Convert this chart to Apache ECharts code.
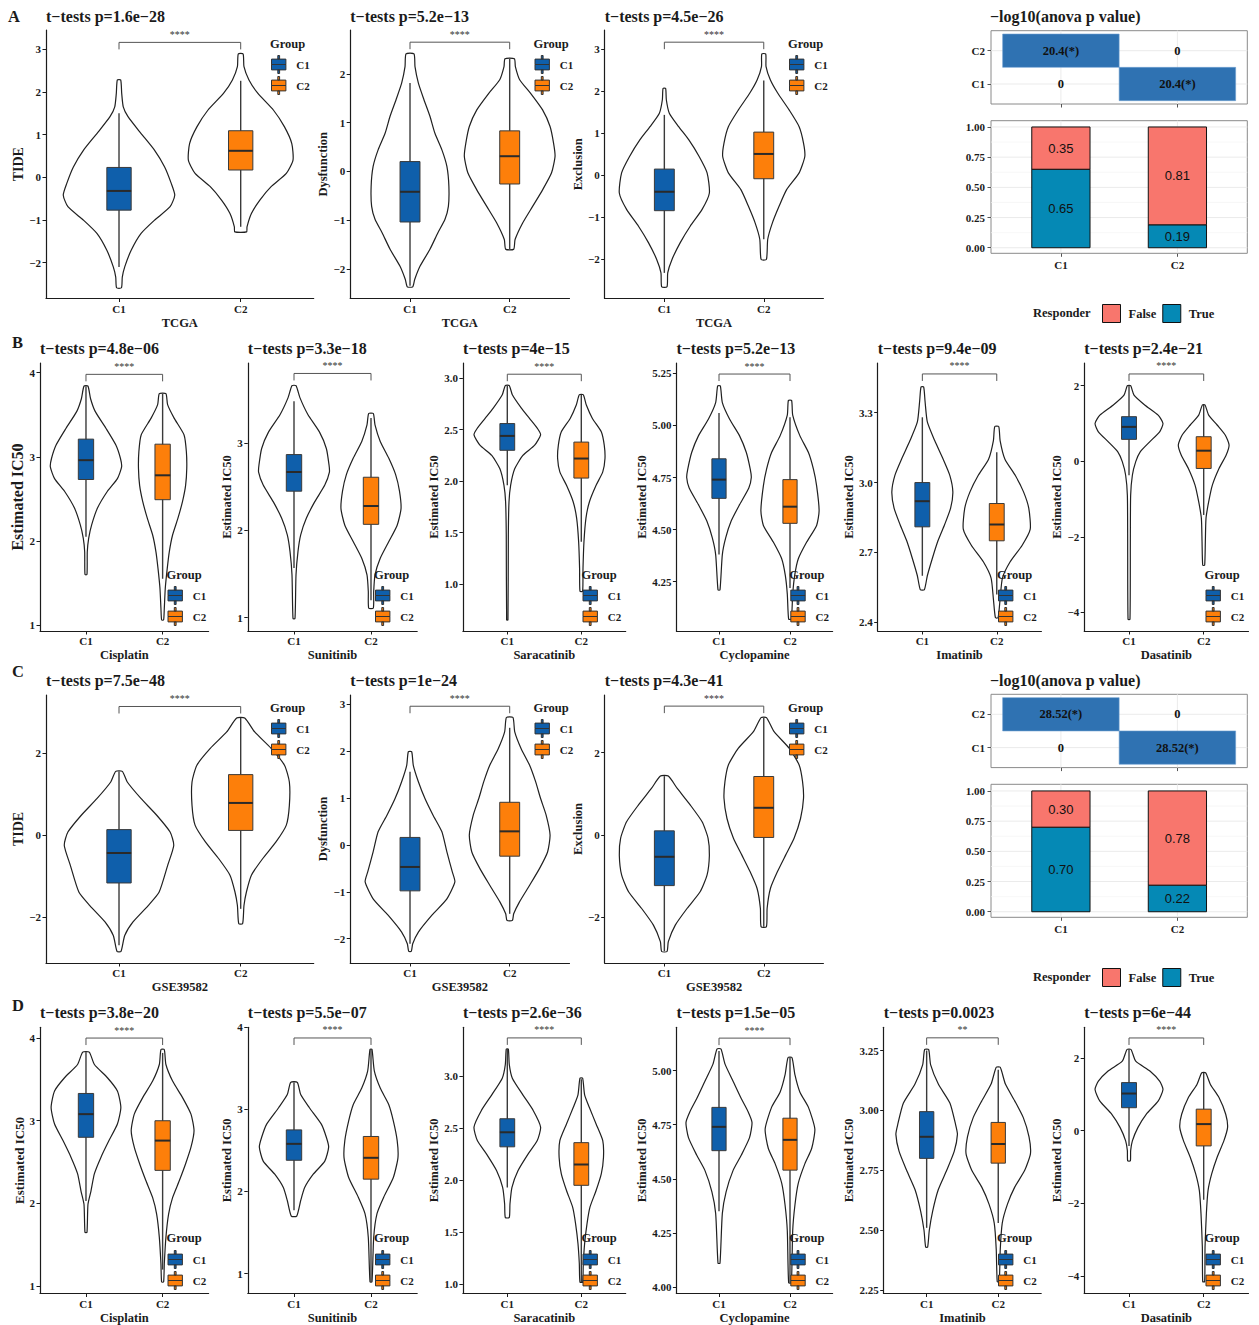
<!DOCTYPE html>
<html>
<head>
<meta charset="utf-8">
<title>TIDE scores and estimated drug IC50 by cluster</title>
<script src="https://cdn.jsdelivr.net/npm/echarts@6.0.0/dist/echarts.min.js"></script>
<style>
html,body{margin:0;padding:0;background:#ffffff;}
#chart{width:1259px;height:1325px;}
</style>
</head>
<body>
<div id="chart"></div>
<script>
// ---------------- data ----------------
const groups = ['C1', 'C2'];
const scoreNames = ['TIDE', 'Dysfunction', 'Exclusion'];
const drugNames = ['Cisplatin', 'Sunitinib', 'Saracatinib', 'Cyclopamine', 'Imatinib', 'Dasatinib'];

const titlesA = ['t\u2212tests p=1.6e\u221228', 't\u2212tests p=5.2e\u221213', 't\u2212tests p=4.5e\u221226'];
const titlesB = ['t\u2212tests p=4.8e\u221206', 't\u2212tests p=3.3e\u221218', 't\u2212tests p=4e\u221215', 't\u2212tests p=5.2e\u221213', 't\u2212tests p=9.4e\u221209', 't\u2212tests p=2.4e\u221221'];
const titlesC = ['t\u2212tests p=7.5e\u221248', 't\u2212tests p=1e\u221224', 't\u2212tests p=4.3e\u221241'];
const titlesD = ['t\u2212tests p=3.8e\u221220', 't\u2212tests p=5.5e\u221207', 't\u2212tests p=2.6e\u221236', 't\u2212tests p=1.5e\u221205', 't\u2212tests p=0.0023', 't\u2212tests p=6e\u221244'];

const sigA = ['****', '****', '****'];
const sigB = ['****', '****', '****', '****', '****', '****'];
const sigC = ['****', '****', '****'];
const sigD = ['****', '****', '****', '****', '**', '****'];

// height of the comparison bracket in each panel (data units)
const bracketA = [3.16, 2.65, 3.17];
const bracketB = [3.98, 3.80, 3.04, 5.247, 3.466, 2.31];
const bracketC = [3.13, 2.96, 3.13];
const bracketD = [4.0, 3.87, 3.367, 5.15, 3.303, 2.547];

// y tick values
const ticksA = [[-2, -1, 0, 1, 2, 3], [-2, -1, 0, 1, 2], [-2, -1, 0, 1, 2, 3]];
const ticksB = [[1, 2, 3, 4], [1, 2, 3], [1.0, 1.5, 2.0, 2.5, 3.0], [4.25, 4.5, 4.75, 5.0, 5.25], [2.4, 2.7, 3.0, 3.3], [-4, -2, 0, 2]];
const ticksC = [[-2, 0, 2], [-2, -1, 0, 1, 2, 3], [-2, 0, 2]];
const ticksD = [[1, 2, 3, 4], [1, 2, 3, 4], [1.0, 1.5, 2.0, 2.5, 3.0], [4.0, 4.25, 4.5, 4.75, 5.0], [2.25, 2.5, 2.75, 3.0, 3.25], [-4, -2, 0, 2]];

// violin outlines: [value, half width in category units], bottom to top
// box statistics: [lower whisker, Q1, median, Q3, upper whisker]

// TCGA TIDE
const violinTideTcgaC1 = [[-2.59, 0.02], [-2.34, 0.027], [-2.10, 0.047], [-1.71, 0.10], [-1.32, 0.18], [-1.01, 0.29], [-0.69, 0.42], [-0.42, 0.458], [-0.15, 0.43], [0.24, 0.375], [0.64, 0.29], [1.03, 0.18], [1.42, 0.074], [1.65, 0.035], [1.97, 0.022], [2.28, 0.014]];
const violinTideTcgaC2 = [[-1.28, 0.048], [-1.16, 0.052], [-0.85, 0.088], [-0.54, 0.156], [-0.22, 0.25], [0.09, 0.375], [0.40, 0.43], [0.79, 0.42], [1.18, 0.36], [1.57, 0.27], [1.97, 0.14], [2.28, 0.068], [2.59, 0.027], [2.89, 0.02]];
const boxTideTcgaC1 = [-2.10, -0.77, -0.32, 0.23, 1.50];
const boxTideTcgaC2 = [-1.16, 0.17, 0.62, 1.09, 2.26];

// TCGA Dysfunction
const violinDysTcgaC1 = [[-2.37, 0.027], [-2.22, 0.047], [-1.95, 0.10], [-1.60, 0.20], [-1.26, 0.28], [-0.99, 0.35], [-0.72, 0.385], [-0.31, 0.39], [0.10, 0.37], [0.44, 0.32], [0.78, 0.25], [1.13, 0.20], [1.47, 0.14], [1.81, 0.084], [2.15, 0.05], [2.41, 0.04]];
const violinDysTcgaC2 = [[-1.60, 0.04], [-1.40, 0.054], [-1.06, 0.13], [-0.72, 0.23], [-0.38, 0.33], [-0.03, 0.42], [0.31, 0.455], [0.58, 0.44], [0.92, 0.405], [1.26, 0.33], [1.60, 0.21], [1.88, 0.10], [2.15, 0.057], [2.31, 0.047]];
const boxDysTcgaC1 = [-2.35, -1.04, -0.42, 0.20, 1.81];
const boxDysTcgaC2 = [-1.60, -0.26, 0.31, 0.83, 2.31];

// TCGA Exclusion
const violinExcTcgaC1 = [[-2.65, 0.027], [-2.32, 0.034], [-2.0, 0.077], [-1.60, 0.16], [-1.21, 0.26], [-0.81, 0.38], [-0.42, 0.453], [0.06, 0.43], [0.45, 0.35], [0.85, 0.245], [1.16, 0.144], [1.48, 0.05], [1.80, 0.02], [2.07, 0.013]];
const violinExcTcgaC2 = [[-2.0, 0.027], [-1.52, 0.04], [-1.13, 0.087], [-0.73, 0.155], [-0.34, 0.23], [0.06, 0.356], [0.45, 0.413], [0.77, 0.40], [1.16, 0.356], [1.56, 0.255], [1.96, 0.14], [2.27, 0.067], [2.59, 0.023], [2.89, 0.02]];
const boxExcTcgaC1 = [-2.32, -0.84, -0.39, 0.15, 1.44];
const boxExcTcgaC2 = [-1.52, -0.08, 0.51, 1.03, 2.26];

// TCGA drugs
const violinCisTcgaC1 = [[1.60, 0.013], [1.87, 0.017], [2.03, 0.035], [2.19, 0.074], [2.39, 0.15], [2.59, 0.28], [2.74, 0.41], [2.88, 0.465], [2.98, 0.45], [3.14, 0.39], [3.34, 0.26], [3.54, 0.12], [3.69, 0.06], [3.84, 0.026]];
const violinCisTcgaC2 = [[1.06, 0.013], [1.20, 0.022], [1.44, 0.035], [1.67, 0.06], [1.87, 0.087], [2.07, 0.13], [2.27, 0.20], [2.47, 0.26], [2.66, 0.30], [2.86, 0.315], [3.06, 0.31], [3.26, 0.28], [3.46, 0.15], [3.62, 0.065], [3.75, 0.043]];
const boxCisTcgaC1 = [2.05, 2.73, 2.96, 3.21, 3.84];
const boxCisTcgaC2 = [1.55, 2.49, 2.78, 3.15, 3.75];

const violinSunTcgaC1 = [[0.99, 0.013], [1.49, 0.026], [1.76, 0.052], [1.95, 0.087], [2.14, 0.16], [2.33, 0.27], [2.52, 0.40], [2.67, 0.46], [2.75, 0.455], [2.94, 0.42], [3.13, 0.33], [3.33, 0.18], [3.52, 0.078], [3.66, 0.026]];
const violinSunTcgaC2 = [[1.11, 0.03], [1.30, 0.035], [1.49, 0.052], [1.68, 0.12], [1.87, 0.23], [2.06, 0.34], [2.25, 0.39], [2.45, 0.37], [2.64, 0.32], [2.83, 0.23], [3.02, 0.12], [3.21, 0.052], [3.34, 0.03]];
const boxSunTcgaC1 = [1.57, 2.45, 2.67, 2.87, 3.48];
const boxSunTcgaC2 = [1.20, 2.07, 2.28, 2.61, 3.29];

const violinSarTcgaC1 = [[0.65, 0.009], [1.48, 0.014], [1.80, 0.023], [1.96, 0.045], [2.12, 0.10], [2.25, 0.21], [2.35, 0.37], [2.45, 0.45], [2.51, 0.41], [2.61, 0.30], [2.71, 0.19], [2.84, 0.068], [2.93, 0.027]];
const violinSarTcgaC2 = [[0.93, 0.018], [1.15, 0.023], [1.41, 0.036], [1.64, 0.063], [1.80, 0.11], [1.96, 0.20], [2.09, 0.29], [2.22, 0.32], [2.35, 0.31], [2.48, 0.27], [2.61, 0.15], [2.74, 0.068], [2.84, 0.027]];
const boxSarTcgaC1 = [1.96, 2.30, 2.44, 2.56, 2.93];
const boxSarTcgaC2 = [1.41, 2.03, 2.22, 2.38, 2.84];

const violinCycTcgaC1 = [[4.21, 0.014], [4.38, 0.047], [4.46, 0.094], [4.54, 0.17], [4.62, 0.29], [4.70, 0.42], [4.75, 0.455], [4.79, 0.44], [4.87, 0.385], [4.95, 0.29], [5.03, 0.15], [5.11, 0.047], [5.19, 0.019]];
const violinCycTcgaC2 = [[4.07, 0.019], [4.19, 0.038], [4.28, 0.066], [4.36, 0.117], [4.44, 0.235], [4.52, 0.375], [4.59, 0.41], [4.71, 0.375], [4.79, 0.33], [4.87, 0.26], [4.95, 0.14], [5.05, 0.038], [5.12, 0.023]];
const boxCycTcgaC1 = [4.38, 4.65, 4.74, 4.84, 5.06];
const boxCycTcgaC2 = [4.22, 4.53, 4.61, 4.74, 5.04];

const violinImaTcgaC1 = [[2.54, 0.027], [2.60, 0.067], [2.67, 0.13], [2.75, 0.21], [2.82, 0.30], [2.89, 0.38], [2.96, 0.41], [3.03, 0.37], [3.10, 0.28], [3.18, 0.166], [3.26, 0.067], [3.35, 0.036], [3.41, 0.018]];
const violinImaTcgaC2 = [[2.42, 0.018], [2.50, 0.045], [2.59, 0.076], [2.66, 0.18], [2.73, 0.34], [2.80, 0.45], [2.89, 0.43], [2.96, 0.36], [3.03, 0.25], [3.10, 0.11], [3.18, 0.045], [3.24, 0.027]];
const boxImaTcgaC1 = [2.60, 2.81, 2.92, 3.00, 3.28];
const boxImaTcgaC2 = [2.52, 2.75, 2.82, 2.91, 3.13];

const violinDasTcgaC1 = [[-4.18, 0.013], [-1.95, 0.018], [-0.9, 0.022], [-0.37, 0.045], [-0.01, 0.09], [0.25, 0.15], [0.52, 0.28], [0.78, 0.41], [1.0, 0.455], [1.22, 0.39], [1.49, 0.21], [1.75, 0.067], [2.0, 0.022]];
const violinDasTcgaC2 = [[-2.75, 0.013], [-2.13, 0.022], [-1.51, 0.031], [-1.07, 0.067], [-0.63, 0.116], [-0.19, 0.205], [0.16, 0.30], [0.43, 0.34], [0.69, 0.29], [0.96, 0.18], [1.22, 0.067], [1.49, 0.018]];
const boxDasTcgaC1 = [-0.37, 0.58, 0.91, 1.18, 2.0];
const boxDasTcgaC2 = [-1.42, -0.19, 0.28, 0.65, 1.49];

// GSE39582 TIDE
const violinTideGseC1 = [[-2.84, 0.016], [-2.45, 0.047], [-2.12, 0.115], [-1.72, 0.24], [-1.39, 0.33], [-0.74, 0.40], [-0.25, 0.45], [0.07, 0.42], [0.48, 0.31], [0.89, 0.18], [1.29, 0.068], [1.55, 0.027]];
const violinTideGseC2 = [[-2.16, 0.016], [-1.72, 0.027], [-1.39, 0.047], [-0.98, 0.088], [-0.58, 0.18], [-0.17, 0.29], [0.24, 0.375], [0.72, 0.40], [1.29, 0.40], [1.70, 0.36], [2.11, 0.25], [2.51, 0.115], [2.85, 0.033]];
const boxTideGseC1 = [-2.69, -1.17, -0.44, 0.13, 1.55];
const boxTideGseC2 = [-1.80, 0.11, 0.78, 1.47, 2.85];

// GSE39582 Dysfunction
const violinDysGseC1 = [[-2.27, 0.013], [-2.11, 0.027], [-1.86, 0.084], [-1.50, 0.22], [-1.15, 0.37], [-0.79, 0.45], [-0.58, 0.425], [-0.15, 0.37], [0.28, 0.32], [0.64, 0.23], [0.99, 0.15], [1.35, 0.084], [1.70, 0.033], [1.99, 0.017]];
const violinDysGseC2 = [[-1.61, 0.027], [-1.47, 0.04], [-1.22, 0.097], [-0.86, 0.20], [-0.50, 0.30], [-0.15, 0.38], [0.21, 0.405], [0.64, 0.365], [0.99, 0.31], [1.35, 0.26], [1.70, 0.20], [2.06, 0.114], [2.42, 0.05], [2.72, 0.033]];
const boxDysGseC1 = [-2.11, -0.98, -0.47, 0.16, 1.56];
const boxDysGseC2 = [-1.47, -0.24, 0.29, 0.91, 2.50];

// GSE39582 Exclusion
const violinExcGseC1 = [[-2.83, 0.027], [-2.59, 0.04], [-2.19, 0.11], [-1.78, 0.23], [-1.38, 0.36], [-0.97, 0.43], [-0.49, 0.453], [-0.08, 0.44], [0.32, 0.38], [0.73, 0.26], [1.13, 0.13], [1.43, 0.04]];
const violinExcGseC2 = [[-2.23, 0.027], [-1.78, 0.034], [-1.30, 0.067], [-0.89, 0.138], [-0.49, 0.22], [-0.08, 0.305], [0.40, 0.37], [0.89, 0.40], [1.30, 0.39], [1.70, 0.356], [2.11, 0.255], [2.51, 0.104], [2.85, 0.027]];
const boxExcGseC1 = [-2.82, -1.23, -0.53, 0.10, 1.43];
const boxExcGseC2 = [-2.23, -0.06, 0.66, 1.42, 2.85];

// GSE39582 drugs
const violinCisGseC1 = [[1.65, 0.013], [1.99, 0.026], [2.15, 0.065], [2.36, 0.11], [2.56, 0.196], [2.76, 0.30], [2.96, 0.41], [3.16, 0.455], [3.36, 0.41], [3.52, 0.28], [3.68, 0.11], [3.83, 0.043]];
const violinCisGseC2 = [[1.05, 0.013], [1.27, 0.022], [1.59, 0.043], [1.87, 0.078], [2.07, 0.13], [2.28, 0.22], [2.48, 0.30], [2.68, 0.37], [2.88, 0.41], [3.08, 0.37], [3.28, 0.26], [3.48, 0.13], [3.68, 0.043], [3.86, 0.022]];
const boxCisGseC1 = [2.03, 2.80, 3.08, 3.33, 3.83];
const boxCisGseC2 = [1.20, 2.40, 2.76, 3.00, 3.82];

const violinSunGseC1 = [[1.70, 0.035], [1.89, 0.087], [2.05, 0.14], [2.21, 0.25], [2.37, 0.40], [2.54, 0.45], [2.66, 0.42], [2.82, 0.355], [3.02, 0.20], [3.18, 0.087], [3.33, 0.043]];
const violinSunGseC2 = [[0.90, 0.013], [1.44, 0.035], [1.73, 0.078], [1.93, 0.165], [2.17, 0.29], [2.41, 0.35], [2.62, 0.34], [2.86, 0.29], [3.06, 0.23], [3.26, 0.12], [3.47, 0.043], [3.73, 0.013]];
const boxSunGseC1 = [1.77, 2.38, 2.58, 2.75, 3.33];
const boxSunGseC2 = [0.90, 2.15, 2.41, 2.67, 3.73];

const violinSarGseC1 = [[1.64, 0.027], [1.77, 0.036], [1.93, 0.063], [2.09, 0.144], [2.25, 0.28], [2.38, 0.405], [2.51, 0.45], [2.67, 0.35], [2.82, 0.21], [2.98, 0.068], [3.11, 0.027], [3.26, 0.014]];
const violinSarGseC2 = [[1.02, 0.018], [1.20, 0.027], [1.39, 0.045], [1.58, 0.077], [1.74, 0.117], [1.90, 0.20], [2.06, 0.27], [2.22, 0.30], [2.38, 0.29], [2.54, 0.20], [2.70, 0.108], [2.82, 0.045], [2.98, 0.018]];
const boxSarGseC1 = [1.93, 2.32, 2.46, 2.59, 3.26];
const boxSarGseC2 = [1.02, 1.95, 2.15, 2.36, 2.97];

const violinCycGseC1 = [[4.11, 0.014], [4.34, 0.047], [4.44, 0.10], [4.54, 0.20], [4.61, 0.315], [4.69, 0.43], [4.76, 0.465], [4.81, 0.41], [4.87, 0.315], [4.95, 0.20], [5.03, 0.085], [5.10, 0.028]];
const violinCycGseC2 = [[4.02, 0.019], [4.26, 0.038], [4.38, 0.07], [4.48, 0.117], [4.57, 0.21], [4.64, 0.305], [4.73, 0.35], [4.83, 0.26], [4.90, 0.14], [4.98, 0.07], [5.06, 0.028]];
const boxCycGseC1 = [4.35, 4.63, 4.74, 4.83, 5.09];
const boxCycGseC2 = [4.02, 4.54, 4.68, 4.78, 5.06];

const violinImaGseC1 = [[2.43, 0.014], [2.50, 0.037], [2.58, 0.084], [2.67, 0.163], [2.75, 0.28], [2.83, 0.386], [2.90, 0.43], [2.94, 0.405], [3.03, 0.326], [3.11, 0.163], [3.19, 0.056], [3.254, 0.028]];
const violinImaGseC2 = [[2.285, 0.014], [2.42, 0.028], [2.53, 0.056], [2.61, 0.13], [2.68, 0.23], [2.75, 0.37], [2.82, 0.45], [2.89, 0.43], [2.97, 0.35], [3.04, 0.23], [3.11, 0.10], [3.18, 0.028]];
const boxImaGseC1 = [2.51, 2.80, 2.89, 2.995, 3.25];
const boxImaGseC2 = [2.53, 2.78, 2.86, 2.95, 3.17];

const violinDasGseC1 = [[-0.83, 0.018], [-0.55, 0.022], [-0.28, 0.045], [0.09, 0.12], [0.45, 0.23], [0.81, 0.39], [1.13, 0.455], [1.36, 0.41], [1.64, 0.28], [1.91, 0.09], [2.23, 0.027]];
const violinDasGseC2 = [[-4.15, 0.013], [-3.20, 0.018], [-2.28, 0.036], [-1.65, 0.058], [-1.19, 0.107], [-0.73, 0.18], [-0.28, 0.27], [0.09, 0.32], [0.45, 0.295], [0.91, 0.205], [1.27, 0.09], [1.59, 0.027]];
const boxDasGseC1 = [-0.42, 0.63, 1.02, 1.32, 2.23];
const boxDasGseC2 = [-1.90, -0.42, 0.18, 0.59, 1.59];

// responder fractions and ANOVA tiles
const responderLevels = ['False', 'True'];
const respTrueTcga = [0.65, 0.19];
const respFalseTcga = [0.35, 0.81];
const respTrueGse = [0.70, 0.22];
const respFalseGse = [0.30, 0.78];
const anovaTcga = [[1, 2, 20.4], [2, 2, 0], [1, 1, 0], [2, 1, 20.4]];
const anovaGse = [[1, 2, 28.52], [2, 2, 0], [1, 1, 0], [2, 1, 28.52]];
const fractionTicks = [0, 0.25, 0.5, 0.75, 1];
const fractionMinor = [0.125, 0.375, 0.625, 0.875];

// ---------------- styling & layout ----------------
const SERIF = '"Liberation Serif","Times New Roman",serif';
const SANS = '"Liberation Sans",Arial,sans-serif';
const COLOR_C1 = '#0f5fab';
const COLOR_C2 = '#fd7f0a';
const COLOR_FALSE = '#f8766d';
const COLOR_TRUE = '#0589b5';
const COLOR_TILE = '#2f72b2';
const INK = '#1b1b1b';
const BOX_HALF = 0.1;
const BAR_HALF = 0.25;
const BOX_ICON = 'path://M7,0h2v4h-2z M0,4h16v6h-16z M0,10h16v6h-16z M7,16h2v4h-2z';

const rowA = { top: 30, height: 268.5, titleY: 16, groupY: 43.5, legendTop: 55, letter: 'A', letterY: 16 };
const rowB = { top: 363, height: 268, titleY: 348, groupY: 574.5, legendTop: 586, letter: 'B', letterY: 342 };
const rowC = { top: 695, height: 268, titleY: 680, groupY: 707.5, legendTop: 719, letter: 'C', letterY: 671 };
const rowD = { top: 1027.3, height: 267.4, titleY: 1012, groupY: 1238, legendTop: 1250, letter: 'D', letterY: 1005.5 };

const colsWide = [
  { left: 46, width: 267.7, legendX: 271 },
  { left: 350.2, width: 219.3, legendX: 534.5 },
  { left: 604.7, width: 218.7, legendX: 789 }
];
const colsNarrowB = [
  { left: 40, width: 168.6, legendX: 167.5 },
  { left: 247.8, width: 169.4, legendX: 375 },
  { left: 462.9, width: 162.8, legendX: 582.5 },
  { left: 676.4, width: 156.2, legendX: 790.3 },
  { left: 877.7, width: 163.7, legendX: 998 },
  { left: 1084.2, width: 164.3, legendX: 1205.5 }
];
const colsNarrowD = colsNarrowB.map((c, i) => i === 4 ? { left: 883.7, width: 157.5, legendX: 998 } : c);

// y extents, label decimals, axis-title gap/size for each panel
const axesA = [
  { min: -2.84, max: 3.45, dec: 0, gap: 17.5, size: 14 },
  { min: -2.61, max: 2.90, dec: 0, gap: 16.5, size: 12.5 },
  { min: -2.93, max: 3.46, dec: 0, gap: 15, size: 12.5 }
];
const axesB = [
  { min: 0.929, max: 4.115, dec: 0, gap: 11, size: 16 },
  { min: 0.847, max: 3.92, dec: 0, gap: 14.5, size: 12.5 },
  { min: 0.543, max: 3.149, dec: 1, gap: 22.5, size: 12.5 },
  { min: 4.013, max: 5.30, dec: 2, gap: 27, size: 12.5 },
  { min: 2.363, max: 3.513, dec: 1, gap: 21, size: 12.5 },
  { min: -4.49, max: 2.60, dec: 0, gap: 20, size: 12.5 }
];
const axesC = [
  { min: -3.12, max: 3.41, dec: 0, gap: 18.5, size: 14 },
  { min: -2.52, max: 3.20, dec: 0, gap: 16.5, size: 12.5 },
  { min: -3.11, max: 3.40, dec: 0, gap: 15, size: 12.5 }
];
const axesD = [
  { min: 0.911, max: 4.13, dec: 0, gap: 14, size: 13 },
  { min: 0.757, max: 4.0, dec: 0, gap: 14.5, size: 12.5 },
  { min: 0.91, max: 3.469, dec: 1, gap: 22.5, size: 12.5 },
  { min: 3.97, max: 5.2, dec: 2, gap: 27, size: 12.5 },
  { min: 2.236, max: 3.347, dec: 2, gap: 26.5, size: 12.5 },
  { min: -4.476, max: 2.84, dec: 0, gap: 20, size: 12.5 }
];

// ---------------- option assembly ----------------
const option = {
  animation: false,
  backgroundColor: '#ffffff',
  grid: [], xAxis: [], yAxis: [], series: [], legend: [], graphic: []
};

function num(v, dec) {
  const s = Math.abs(v).toFixed(dec);
  return (v < 0 ? '\u2212' : '') + s;
}

function text(x, y, str, size, opts) {
  option.graphic.push({
    type: 'text', x: x, y: y, z: 100, silent: true,
    style: Object.assign({
      text: str, fontFamily: SERIF, fontWeight: 'bold', fontSize: size,
      fill: INK, align: 'left', verticalAlign: 'middle'
    }, opts || {})
  });
}

function violinSeries(name, color, gx, profile, box, ai) {
  return {
    type: 'custom', name: name, xAxisIndex: ai, yAxisIndex: ai, z: 2,
    itemStyle: { color: color },
    data: [[gx, box[2]]],
    renderItem: function (params, api) {
      const c = api.value(0);
      const right = profile.map(p => api.coord([c + p[1], p[0]]));
      const left = profile.slice().reverse().map(p => api.coord([c - p[1], p[0]]));
      const lo = api.coord([c, box[0]]);
      const hi = api.coord([c, box[4]]);
      const tl = api.coord([c - BOX_HALF, box[3]]);
      const br = api.coord([c + BOX_HALF, box[1]]);
      const m0 = api.coord([c - BOX_HALF, box[2]]);
      const m1 = api.coord([c + BOX_HALF, box[2]]);
      return {
        type: 'group',
        children: [
          { type: 'polygon', shape: { points: right.concat(left), smooth: 0.2 },
            style: { fill: '#ffffff', stroke: '#202020', lineWidth: 1.2 } },
          { type: 'line', shape: { x1: lo[0], y1: lo[1], x2: hi[0], y2: hi[1] },
            style: { stroke: '#3a3a3a', lineWidth: 1.4 } },
          { type: 'rect', shape: { x: tl[0], y: tl[1], width: br[0] - tl[0], height: br[1] - tl[1] },
            style: { fill: color, stroke: '#3a3a3a', lineWidth: 1 } },
          { type: 'line', shape: { x1: m0[0], y1: m0[1], x2: m1[0], y2: m1[1] },
            style: { stroke: '#2a2a2a', lineWidth: 2 } }
        ]
      };
    }
  };
}

function bracketSeries(level, label, ai) {
  return {
    type: 'custom', name: 'comparison', xAxisIndex: ai, yAxisIndex: ai, z: 3, silent: true,
    data: [[1, level]],
    renderItem: function (params, api) {
      const a = api.coord([1, api.value(1)]);
      const b = api.coord([2, api.value(1)]);
      return {
        type: 'group',
        children: [
          { type: 'polyline', shape: { points: [[a[0], a[1] + 7], a, b, [b[0], b[1] + 7]] },
            style: { stroke: '#555555', lineWidth: 1, fill: 'none' } },
          { type: 'text', x: (a[0] + b[0]) / 2, y: a[1] - 8,
            style: { text: label, fontFamily: SERIF, fontSize: 10, fill: '#333333', align: 'center', verticalAlign: 'middle' } }
        ]
      };
    }
  };
}

function axisText(size) {
  return { fontFamily: SERIF, fontWeight: 'bold', fontSize: size, color: INK };
}

function addViolinPanel(row, col, ax, ticks, title, yName, xName, sig, level, v1, v2, b1, b2) {
  const ai = option.grid.length;
  option.grid.push({ left: col.left, top: row.top, width: col.width, height: row.height });
  option.xAxis.push({
    gridIndex: ai, type: 'value', min: 0.4, max: 2.6,
    axisLine: { show: true, onZero: false, lineStyle: { color: INK, width: 1.2 } },
    axisTick: { show: true, customValues: [1, 2], length: 3.5, lineStyle: { color: INK } },
    axisLabel: { customValues: [1, 2], formatter: v => groups[Math.round(v) - 1], margin: 4.5,
      fontFamily: SERIF, fontWeight: 'bold', fontSize: 11, color: INK },
    splitLine: { show: false },
    name: xName, nameLocation: 'middle', nameGap: 17.5, nameTextStyle: axisText(12.5)
  });
  option.yAxis.push({
    gridIndex: ai, type: 'value', min: ax.min, max: ax.max,
    axisLine: { show: true, onZero: false, lineStyle: { color: INK, width: 1.2 } },
    axisTick: { show: true, customValues: ticks, length: 3.5, lineStyle: { color: INK } },
    axisLabel: { customValues: ticks, formatter: v => num(v, ax.dec), margin: 5,
      fontFamily: SERIF, fontWeight: 'bold', fontSize: 11, color: INK },
    splitLine: { show: false },
    name: yName, nameLocation: 'middle', nameGap: ax.gap, nameTextStyle: axisText(ax.size)
  });
  option.series.push(violinSeries('C1', COLOR_C1, 1, v1, b1, ai));
  option.series.push(violinSeries('C2', COLOR_C2, 2, v2, b2, ai));
  option.series.push(bracketSeries(level, sig, ai));
  option.legend.push({
    data: groups, orient: 'vertical', left: col.legendX, top: row.legendTop, padding: 0, z: 50,
    itemWidth: 15, itemHeight: 18, itemGap: 2, icon: BOX_ICON, selectedMode: false,
    itemStyle: { borderColor: '#333333', borderWidth: 1 },
    textStyle: { fontFamily: SERIF, fontWeight: 'bold', fontSize: 11, color: INK, padding: [0, 0, 0, 5] }
  });
  text(col.left, row.titleY, title, 16);
  text(col.legendX - 1, row.groupY, 'Group', 12.5);
}

// one stacked segment per data item: [x, fraction, base]
function fractionSeries(name, color, values, bases, ai) {
  return {
    type: 'custom', name: name, xAxisIndex: ai, yAxisIndex: ai, z: 2,
    itemStyle: { color: color },
    data: values.map((v, i) => [i + 1, v, bases[i]]),
    renderItem: function (params, api) {
      const x = api.value(0), v = api.value(1), base = api.value(2);
      const a = api.coord([x - BAR_HALF, base + v]);
      const b = api.coord([x + BAR_HALF, base]);
      return {
        type: 'group',
        children: [
          { type: 'rect', shape: { x: a[0], y: a[1], width: b[0] - a[0], height: b[1] - a[1] },
            style: { fill: color, stroke: '#111111', lineWidth: 1 } },
          { type: 'text', x: (a[0] + b[0]) / 2, y: (a[1] + b[1]) / 2,
            style: { text: v.toFixed(2), fontFamily: SANS, fontSize: 13, fill: '#111111',
              align: 'center', verticalAlign: 'middle' } }
        ]
      };
    }
  };
}

function addResponsePanel(tileTop, barTop, barHeight, barMin, barMax, legendTop, titleY, cells, trueVals, falseVals) {
  const left = 991, width = 256.3;
  // tile panel
  const hi = option.grid.length;
  option.grid.push({ left: left, top: tileTop, width: width, height: 73.3, show: true,
    borderColor: '#8a8a8a', borderWidth: 1, backgroundColor: '#ffffff' });
  option.xAxis.push({
    gridIndex: hi, type: 'value', min: 0.4, max: 2.6,
    axisLine: { show: false, onZero: false },
    axisTick: { show: true, customValues: [1, 2], length: 3.5, lineStyle: { color: '#555' } },
    axisLabel: { show: false }, splitLine: { show: false }
  });
  option.yAxis.push({
    gridIndex: hi, type: 'value', min: 0.4, max: 2.6,
    axisLine: { show: false, onZero: false },
    axisTick: { show: true, customValues: [1, 2], length: 3.5, lineStyle: { color: '#555' } },
    axisLabel: { customValues: [1, 2], formatter: v => groups[Math.round(v) - 1], margin: 6,
      fontFamily: SERIF, fontWeight: 'bold', fontSize: 11, color: INK },
    splitLine: { show: false }
  });
  option.series.push({
    type: 'custom', name: 'tile-grid', xAxisIndex: hi, yAxisIndex: hi, z: 1, silent: true,
    data: [[1, 0], [2, 0], [0, 1], [0, 2]],
    renderItem: function (params, api) {
      const vx = api.value(0), vy = api.value(1);
      const p0 = vx ? api.coord([vx, 0.4]) : api.coord([0.4, vy]);
      const p1 = vx ? api.coord([vx, 2.6]) : api.coord([2.6, vy]);
      return { type: 'line', shape: { x1: p0[0], y1: p0[1], x2: p1[0], y2: p1[1] },
        style: { stroke: '#ebebeb', lineWidth: 1 } };
    }
  });
  option.series.push({
    type: 'custom', name: 'anova', xAxisIndex: hi, yAxisIndex: hi, z: 2, silent: true,
    data: cells,
    renderItem: function (params, api) {
      const x = api.value(0), y = api.value(1), v = api.value(2);
      const a = api.coord([x - 0.5, y + 0.5]);
      const b = api.coord([x + 0.5, y - 0.5]);
      return {
        type: 'group',
        children: [
          { type: 'rect', shape: { x: a[0], y: a[1], width: b[0] - a[0], height: b[1] - a[1] },
            style: { fill: v > 0 ? COLOR_TILE : 'rgba(255,255,255,0)', stroke: v > 0 ? '#6f9fd0' : 'none', lineWidth: 0.6 } },
          { type: 'text', x: (a[0] + b[0]) / 2, y: (a[1] + b[1]) / 2,
            style: { text: v > 0 ? v + '(*)' : '0', fontFamily: SERIF, fontWeight: 'bold', fontSize: 12.5,
              fill: '#111111', align: 'center', verticalAlign: 'middle' } }
        ]
      };
    }
  });
  // stacked responder fractions
  const bi = option.grid.length;
  option.grid.push({ left: left, top: barTop, width: width, height: barHeight, show: true,
    borderColor: '#8a8a8a', borderWidth: 1, backgroundColor: '#ffffff' });
  option.xAxis.push({
    gridIndex: bi, type: 'value', min: 0.4, max: 2.6,
    axisLine: { show: false, onZero: false },
    axisTick: { show: true, customValues: [1, 2], length: 3.5, lineStyle: { color: '#555' } },
    axisLabel: { customValues: [1, 2], formatter: v => groups[Math.round(v) - 1], margin: 6,
      fontFamily: SERIF, fontWeight: 'bold', fontSize: 11, color: INK },
    splitLine: { show: false }
  });
  option.yAxis.push({
    gridIndex: bi, type: 'value', min: barMin, max: barMax,
    axisLine: { show: false, onZero: false },
    axisTick: { show: true, customValues: fractionTicks, length: 3.5, lineStyle: { color: '#555' } },
    axisLabel: { customValues: fractionTicks, formatter: v => v.toFixed(2), margin: 6,
      fontFamily: SERIF, fontWeight: 'bold', fontSize: 11, color: INK },
    splitLine: { show: false }
  });
  const gridLines = fractionTicks.map(v => [0, v, 1]).concat(fractionMinor.map(v => [0, v, 0]), [[1, 0, 1], [2, 0, 1]]);
  option.series.push({
    type: 'custom', name: 'fraction-grid', xAxisIndex: bi, yAxisIndex: bi, z: 1, silent: true,
    data: gridLines,
    renderItem: function (params, api) {
      const vx = api.value(0), vy = api.value(1), major = api.value(2);
      const p0 = vx ? api.coord([vx, barMin]) : api.coord([0.4, vy]);
      const p1 = vx ? api.coord([vx, barMax]) : api.coord([2.6, vy]);
      return { type: 'line', shape: { x1: p0[0], y1: p0[1], x2: p1[0], y2: p1[1] },
        style: { stroke: major ? '#ebebeb' : '#f4f4f4', lineWidth: major ? 1 : 0.7 } };
    }
  });
  option.series.push(fractionSeries('True', COLOR_TRUE, trueVals, trueVals.map(() => 0), bi));
  option.series.push(fractionSeries('False', COLOR_FALSE, falseVals, trueVals, bi));
  option.legend.push({
    data: responderLevels, orient: 'horizontal', left: 1102, top: legendTop, padding: 0,
    itemWidth: 18, itemHeight: 18, itemGap: 6, icon: 'rect', selectedMode: false,
    itemStyle: { borderColor: '#111111', borderWidth: 1 },
    textStyle: { fontFamily: SERIF, fontWeight: 'bold', fontSize: 12.5, color: INK, padding: [0, 0, 0, 3] }
  });
  text(1033, legendTop + 9, 'Responder', 12.5);
  text(990, titleY, '\u2212log10(anova p value)', 16);
}

// Row A
const violinsA = [
  [violinTideTcgaC1, violinTideTcgaC2, boxTideTcgaC1, boxTideTcgaC2],
  [violinDysTcgaC1, violinDysTcgaC2, boxDysTcgaC1, boxDysTcgaC2],
  [violinExcTcgaC1, violinExcTcgaC2, boxExcTcgaC1, boxExcTcgaC2]
];
violinsA.forEach((v, i) => addViolinPanel(rowA, colsWide[i], axesA[i], ticksA[i], titlesA[i], scoreNames[i], 'TCGA', sigA[i], bracketA[i], v[0], v[1], v[2], v[3]));

// Row B
const violinsB = [
  [violinCisTcgaC1, violinCisTcgaC2, boxCisTcgaC1, boxCisTcgaC2],
  [violinSunTcgaC1, violinSunTcgaC2, boxSunTcgaC1, boxSunTcgaC2],
  [violinSarTcgaC1, violinSarTcgaC2, boxSarTcgaC1, boxSarTcgaC2],
  [violinCycTcgaC1, violinCycTcgaC2, boxCycTcgaC1, boxCycTcgaC2],
  [violinImaTcgaC1, violinImaTcgaC2, boxImaTcgaC1, boxImaTcgaC2],
  [violinDasTcgaC1, violinDasTcgaC2, boxDasTcgaC1, boxDasTcgaC2]
];
violinsB.forEach((v, i) => addViolinPanel(rowB, colsNarrowB[i], axesB[i], ticksB[i], titlesB[i], 'Estimated IC50', drugNames[i], sigB[i], bracketB[i], v[0], v[1], v[2], v[3]));

// Row C
const violinsC = [
  [violinTideGseC1, violinTideGseC2, boxTideGseC1, boxTideGseC2],
  [violinDysGseC1, violinDysGseC2, boxDysGseC1, boxDysGseC2],
  [violinExcGseC1, violinExcGseC2, boxExcGseC1, boxExcGseC2]
];
violinsC.forEach((v, i) => addViolinPanel(rowC, colsWide[i], axesC[i], ticksC[i], titlesC[i], scoreNames[i], 'GSE39582', sigC[i], bracketC[i], v[0], v[1], v[2], v[3]));

// Row D
const violinsD = [
  [violinCisGseC1, violinCisGseC2, boxCisGseC1, boxCisGseC2],
  [violinSunGseC1, violinSunGseC2, boxSunGseC1, boxSunGseC2],
  [violinSarGseC1, violinSarGseC2, boxSarGseC1, boxSarGseC2],
  [violinCycGseC1, violinCycGseC2, boxCycGseC1, boxCycGseC2],
  [violinImaGseC1, violinImaGseC2, boxImaGseC1, boxImaGseC2],
  [violinDasGseC1, violinDasGseC2, boxDasGseC1, boxDasGseC2]
];
violinsD.forEach((v, i) => addViolinPanel(rowD, colsNarrowD[i], axesD[i], ticksD[i], titlesD[i], 'Estimated IC50', drugNames[i], sigD[i], bracketD[i], v[0], v[1], v[2], v[3]));

// responder panels
addResponsePanel(30.7, 120.7, 132.6, -0.046, 1.052, 304, 16, anovaTcga, respTrueTcga, respFalseTcga);
addResponsePanel(694.3, 784.3, 133, -0.046, 1.055, 968, 680, anovaGse, respTrueGse, respFalseGse);

// panel letters
[rowA, rowB, rowC, rowD].forEach(r => text(r === rowA ? 8 : 12, r.letterY, r.letter, 16.5));

const chart = echarts.init(document.getElementById('chart'), null, { renderer: 'svg', width: 1259, height: 1325 });
chart.setOption(option);
</script>
</body>
</html>
